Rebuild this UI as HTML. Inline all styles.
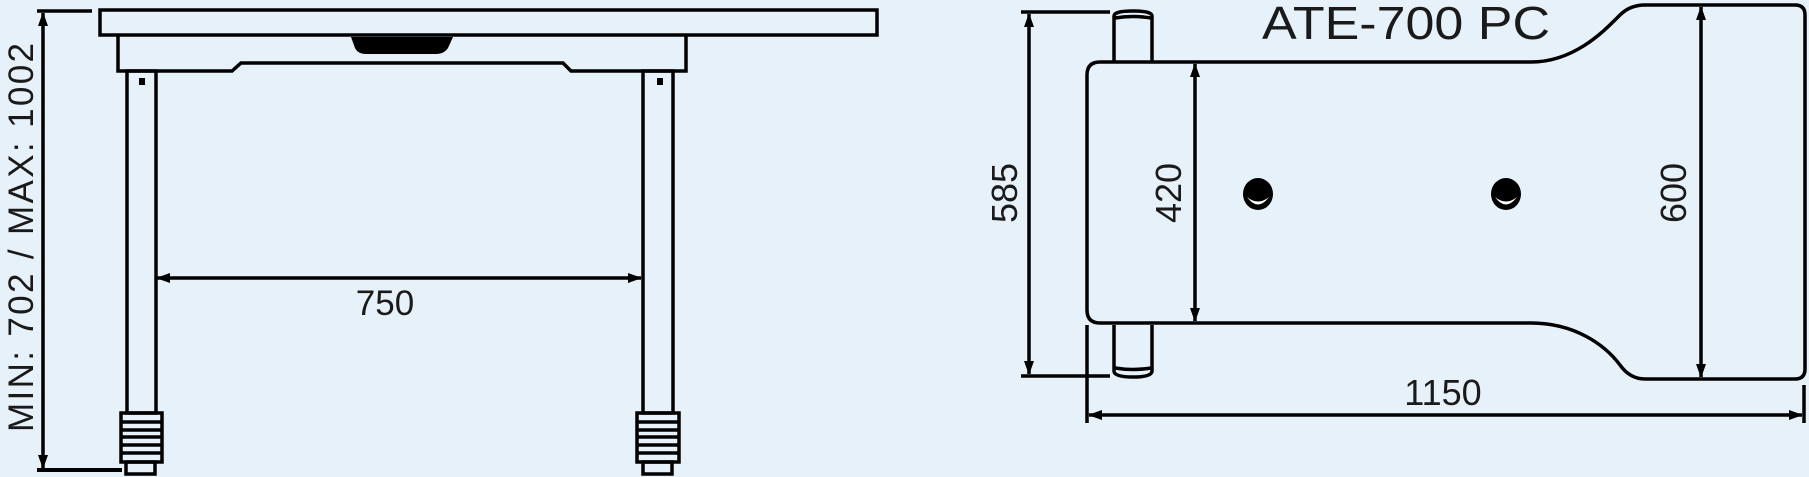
<!DOCTYPE html>
<html><head><meta charset="utf-8"><style>
html,body{margin:0;padding:0;background:#e7f1fa;}
svg{display:block;}
text{font-family:"Liberation Sans",sans-serif;fill:#1a1a1a;}
</style></head><body>
<svg width="1809" height="477" viewBox="0 0 1809 477" xmlns="http://www.w3.org/2000/svg">
<defs>
<marker id="ah" viewBox="0 0 14 10" refX="13" refY="5" markerWidth="14" markerHeight="10" markerUnits="userSpaceOnUse" orient="auto-start-reverse">
<path d="M0,0 L14,5 L0,10 Z" fill="#000"/></marker>
</defs>
<rect width="1809" height="477" fill="#e7f1fa"/>
<g stroke="#000" stroke-width="3.5" fill="none">
<line x1="37" y1="11" x2="92" y2="11"/>
<line x1="37" y1="470" x2="122" y2="470" stroke-width="4"/>
<line x1="43" y1="13" x2="43" y2="468" marker-start="url(#ah)" marker-end="url(#ah)"/>
<rect x="100" y="10" width="777" height="25"/>
<path d="M118,36 L118,71 L232,71 L241,63 L563,63 L571,71 L686,71 L686,36"/>
<rect x="127" y="71" width="29" height="342"/>
<rect x="643" y="71" width="30" height="342"/>
<rect x="121" y="413" width="41" height="49"/>
<rect x="637" y="413" width="42" height="49"/>
<path d="M121,422H162M121,430H162M121,437H162M121,445H162M121,453H162"/>
<path d="M637,422H679M637,430H679M637,437H679M637,445H679M637,453H679"/>
<rect x="126" y="462" width="29" height="12"/>
<rect x="643" y="462" width="29" height="12"/>
<line x1="157" y1="278" x2="641" y2="278" marker-start="url(#ah)" marker-end="url(#ah)"/>
</g>
<path d="M351,37 L453,37 L448,48 Q444,54 436,54 L366,54 Q358,54 355,48 Z" fill="#000"/>
<rect x="139" y="78" width="6" height="7" fill="#000"/>
<rect x="657" y="78" width="6" height="7" fill="#000"/>
<text x="385" y="315" font-size="35" text-anchor="middle">750</text>
<text transform="translate(33,432) rotate(-90)" font-size="35" textLength="389" lengthAdjust="spacing">MIN: 702 / MAX: 1002</text>

<g stroke="#000" stroke-width="3.5" fill="none">
<line x1="1021" y1="12" x2="1110" y2="12"/>
<line x1="1021" y1="376" x2="1110" y2="376"/>
<line x1="1029" y1="14" x2="1029" y2="374" marker-start="url(#ah)" marker-end="url(#ah)"/>
<path d="M1114,62 L1114,16 Q1114,11 1133,11 Q1152,11 1152,16 L1152,62"/>
<path d="M1115,18 Q1133,15 1151,18"/>
<path d="M1114,325 L1114,371 Q1114,377 1133,377 Q1152,377 1152,371 L1152,325"/>
<path d="M1115,368 Q1133,371 1151,368"/>
<path d="M1100,62 L1531,62 C1575,62 1605,30 1620,15 Q1630,5 1645,5 L1795,5 Q1805,5 1805,15 L1805,369 Q1805,379 1795,379 L1645,379 Q1630,379 1620,365 C1605,345 1575,323 1531,323 L1100,323 Q1087,323 1087,310 L1087,75 Q1087,62 1100,62 Z" fill="#e7f1fa"/>
<line x1="1195" y1="64" x2="1195" y2="321" marker-start="url(#ah)" marker-end="url(#ah)"/>
<line x1="1701" y1="7" x2="1701" y2="377" marker-start="url(#ah)" marker-end="url(#ah)"/>
<line x1="1087" y1="325" x2="1087" y2="423"/>
<line x1="1804" y1="385" x2="1804" y2="423"/>
<line x1="1089" y1="415" x2="1802" y2="415" marker-start="url(#ah)" marker-end="url(#ah)"/>
</g>
<g>
<ellipse cx="1258" cy="194" rx="15" ry="16" fill="#000"/>
<path d="M1247,197 Q1258,212 1269,197 Q1258,206 1247,197 Z" fill="#fff"/>
<ellipse cx="1506" cy="194" rx="15" ry="16" fill="#000"/>
<path d="M1495,197 Q1506,212 1517,197 Q1506,206 1495,197 Z" fill="#fff"/>
</g>
<text x="1262" y="39" font-size="46" textLength="288" lengthAdjust="spacingAndGlyphs">ATE-700 PC</text>
<text x="1443" y="405" font-size="36" text-anchor="middle">1150</text>
<text transform="translate(1017,193) rotate(-90)" font-size="36" text-anchor="middle">585</text>
<text transform="translate(1181,193) rotate(-90)" font-size="36" text-anchor="middle">420</text>
<text transform="translate(1686,193) rotate(-90)" font-size="36" text-anchor="middle">600</text>
</svg>
</body></html>
